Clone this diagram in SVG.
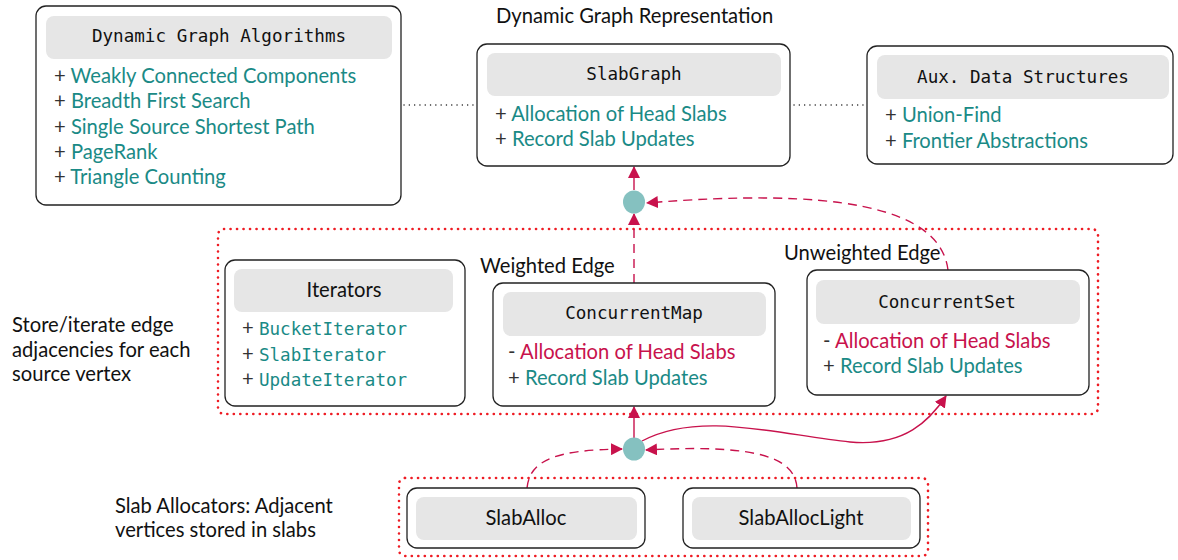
<svg xmlns="http://www.w3.org/2000/svg" width="1178" height="560" viewBox="0 0 1178 560">
<style>
.box{fill:#fff;stroke:#222;stroke-width:1.3}
.hdr{fill:#e6e6e6;stroke:none}
.mono{font-family:"DejaVu Sans Mono","Liberation Mono",monospace;font-size:17.6px;fill:#111}
.sans{font-family:Lato,"Noto Sans",sans-serif;font-size:20.2px;fill:#111}
.teal{fill:#1a8a86}
.crim{fill:#c8124c}
.mk{fill:#333}
.grp{fill:none;stroke:#ee1c24;stroke-width:2.6;stroke-linecap:round;stroke-dasharray:0.1 6.4}
.dot{fill:none;stroke:#222;stroke-width:1.4;stroke-linecap:round;stroke-dasharray:0.1 5.2}
.arr{fill:none;stroke:#c8124c;stroke-width:1.4;marker-end:url(#ah)}
.dash{stroke-dasharray:9 6}
.junc{fill:#85c1c0}
</style>
<defs>
<marker id="ah" viewBox="0 0 12 12" refX="11" refY="6" markerWidth="12" markerHeight="12" markerUnits="userSpaceOnUse" orient="auto">
<path d="M0,0 L12,6 L0,12 Z" fill="#c8124c"/>
</marker>
</defs>

<g id="groups">
<rect class="grp" x="218" y="229" width="880" height="185" rx="6"/>
<rect class="grp" x="399" y="478" width="529" height="78" rx="6"/>
</g>

<g id="labels">
<text class="sans" x="496" y="23">Dynamic Graph Representation</text>
<text class="sans" x="480" y="273">Weighted Edge</text>
<text class="sans" x="784" y="260">Unweighted Edge</text>
<text class="sans" x="12" y="332">Store/iterate edge</text>
<text class="sans" x="12" y="357">adjacencies for each</text>
<text class="sans" x="12" y="381">source vertex</text>
<text class="sans" x="115" y="513">Slab Allocators: Adjacent</text>
<text class="sans" x="115" y="537">vertices stored in slabs</text>
</g>

<g id="connectors">
<line class="dot" x1="404" y1="105" x2="476" y2="105"/>
<line class="dot" x1="794" y1="105" x2="866" y2="105"/>
<line class="arr" x1="634" y1="190" x2="634" y2="167"/>
<line class="arr dash" x1="634" y1="283" x2="634" y2="214"/>
<path class="arr dash" d="M948,270 C940,205 830,188 647,203"/>
<line class="arr" x1="634" y1="438" x2="634" y2="407"/>
<path class="arr" d="M642,441 C700,410 780,435 850,442 C905,447 930,420 946,396"/>
<path class="arr dash" d="M527,488 C530,458 560,450 622,449"/>
<path class="arr dash" d="M797,488 C795,452 740,445 646,450"/>
</g>

<g id="junction-top"><ellipse class="junc" cx="634" cy="202" rx="11" ry="11.5"/></g>
<g id="junction-bottom"><ellipse class="junc" cx="634" cy="449" rx="11" ry="11.5"/></g>

<g id="algorithms">
<rect class="box" x="36" y="6" width="365" height="199" rx="10"/>
<rect class="hdr" x="46" y="16" width="346" height="43" rx="8"/>
<text class="mono" x="219" y="42" text-anchor="middle">Dynamic Graph Algorithms</text>
<text class="sans" x="54" y="83"><tspan class="mk">+ </tspan><tspan class="teal">Weakly Connected Components</tspan></text>
<text class="sans" x="54" y="108"><tspan class="mk">+ </tspan><tspan class="teal">Breadth First Search</tspan></text>
<text class="sans" x="54" y="134"><tspan class="mk">+ </tspan><tspan class="teal">Single Source Shortest Path</tspan></text>
<text class="sans" x="54" y="159"><tspan class="mk">+ </tspan><tspan class="teal">PageRank</tspan></text>
<text class="sans" x="54" y="184"><tspan class="mk">+ </tspan><tspan class="teal">Triangle Counting</tspan></text>
</g>

<g id="slabgraph">
<rect class="box" x="477" y="44" width="313" height="122" rx="10"/>
<rect class="hdr" x="487" y="53" width="294" height="43" rx="8"/>
<text class="mono" x="634" y="80" text-anchor="middle">SlabGraph</text>
<text class="sans" x="495" y="121"><tspan class="mk">+ </tspan><tspan class="teal">Allocation of Head Slabs</tspan></text>
<text class="sans" x="495" y="146"><tspan class="mk">+ </tspan><tspan class="teal">Record Slab Updates</tspan></text>
</g>

<g id="aux">
<rect class="box" x="867" y="46" width="306" height="118" rx="10"/>
<rect class="hdr" x="877" y="55" width="292" height="44" rx="8"/>
<text class="mono" x="1023" y="83" text-anchor="middle">Aux. Data Structures</text>
<text class="sans" x="885" y="122"><tspan class="mk">+ </tspan><tspan class="teal">Union-Find</tspan></text>
<text class="sans" x="885" y="148"><tspan class="mk">+ </tspan><tspan class="teal">Frontier Abstractions</tspan></text>
</g>

<g id="iterators">
<rect class="box" x="225" y="260" width="240" height="146" rx="10"/>
<rect class="hdr" x="234" y="269" width="219" height="43" rx="8"/>
<text class="sans" x="344" y="297" text-anchor="middle">Iterators</text>
<text class="sans" x="242" y="335"><tspan class="mk">+ </tspan><tspan class="mono teal">BucketIterator</tspan></text>
<text class="sans" x="242" y="361"><tspan class="mk">+ </tspan><tspan class="mono teal">SlabIterator</tspan></text>
<text class="sans" x="242" y="386"><tspan class="mk">+ </tspan><tspan class="mono teal">UpdateIterator</tspan></text>
</g>

<g id="concurrentmap">
<rect class="box" x="493" y="283" width="282" height="123" rx="10"/>
<rect class="hdr" x="503" y="292" width="263" height="44" rx="8"/>
<text class="mono" x="634" y="319" text-anchor="middle">ConcurrentMap</text>
<text class="sans" x="508" y="359"><tspan class="mk">- </tspan><tspan class="crim">Allocation of Head Slabs</tspan></text>
<text class="sans" x="508" y="385"><tspan class="mk">+ </tspan><tspan class="teal">Record Slab Updates</tspan></text>
</g>

<g id="concurrentset">
<rect class="box" x="807" y="270" width="282" height="125" rx="10"/>
<rect class="hdr" x="816" y="280" width="264" height="44" rx="8"/>
<text class="mono" x="947" y="308" text-anchor="middle">ConcurrentSet</text>
<text class="sans" x="823" y="348"><tspan class="mk">- </tspan><tspan class="crim">Allocation of Head Slabs</tspan></text>
<text class="sans" x="823" y="373"><tspan class="mk">+ </tspan><tspan class="teal">Record Slab Updates</tspan></text>
</g>

<g id="slaballoc">
<rect class="box" x="407" y="488" width="238" height="60" rx="10"/>
<rect class="hdr" x="416" y="497" width="221" height="43" rx="8"/>
<text class="sans" x="526" y="525" text-anchor="middle">SlabAlloc</text>
</g>

<g id="slaballoclight">
<rect class="box" x="683" y="488" width="237" height="60" rx="10"/>
<rect class="hdr" x="692" y="497" width="219" height="43" rx="8"/>
<text class="sans" x="801" y="525" text-anchor="middle">SlabAllocLight</text>
</g>
</svg>
